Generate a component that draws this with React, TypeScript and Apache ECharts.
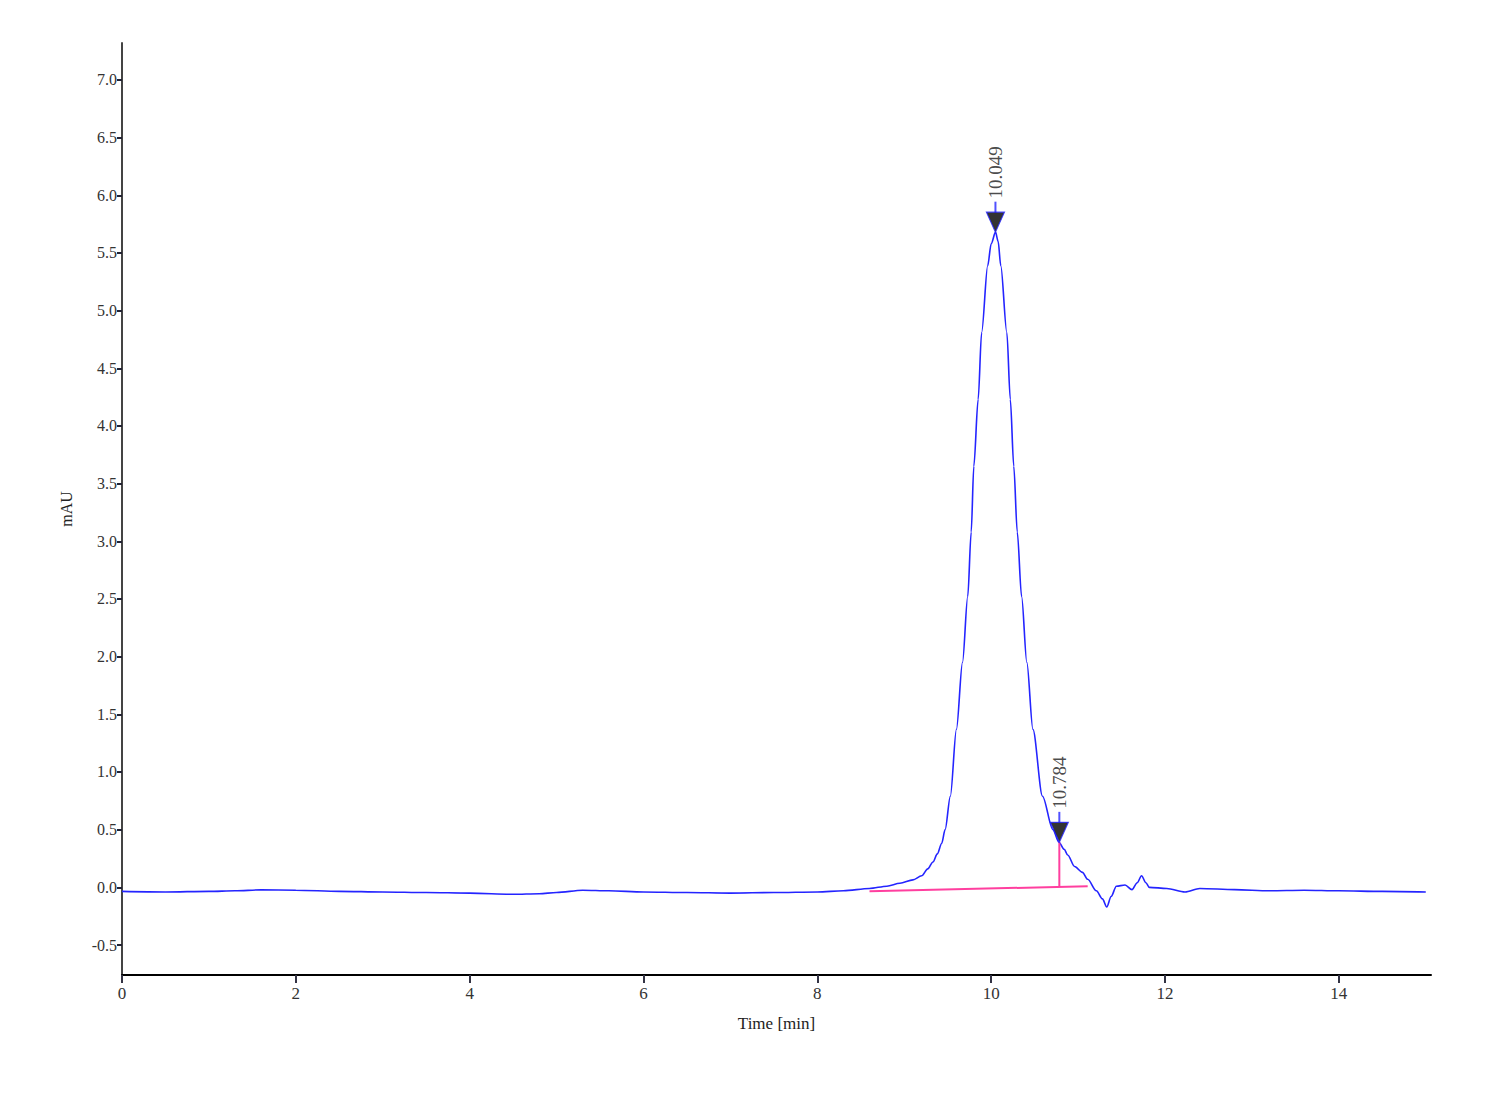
import React, { useEffect, useRef } from "react";
import * as echarts from "echarts";

const times = [
  0, 0.5, 1.0, 1.3, 1.6, 2.0, 2.5, 3.0, 3.5, 4.0, 4.5, 4.8, 5.0, 5.3, 5.6, 6.0, 6.5, 7.0, 7.5, 8.0,
  8.3, 8.6, 8.8, 8.95, 9.1, 9.2, 9.27, 9.33, 9.38, 9.43, 9.47, 9.53, 9.6, 9.67, 9.73, 9.77, 9.8,
  9.85, 9.89, 9.96, 10.0, 10.05, 10.08, 10.11, 10.18, 10.22, 10.26, 10.3, 10.35, 10.41, 10.48,
  10.59, 10.71, 10.78, 10.84, 10.88, 10.96, 11.05, 11.11, 11.21, 11.28, 11.33, 11.38, 11.44,
  11.54, 11.62, 11.68, 11.73, 11.78, 11.82, 12.02, 12.23, 12.4, 12.8, 13.2, 13.6, 14.0, 14.5, 15.0,
];
const signal = [
  -0.035, -0.04, -0.035, -0.03, -0.022, -0.025, -0.035, -0.04, -0.045, -0.05, -0.06, -0.055, -0.045,
  -0.025, -0.03, -0.04, -0.045, -0.05, -0.045, -0.04, -0.03, -0.01, 0.01, 0.035, 0.065, 0.1, 0.16,
  0.22, 0.29, 0.38, 0.5, 0.79, 1.37, 1.95, 2.52, 3.08, 3.65, 4.23, 4.81, 5.39, 5.58, 5.68, 5.6,
  5.39, 4.81, 4.23, 3.65, 3.08, 2.52, 1.95, 1.37, 0.79, 0.5, 0.39, 0.33, 0.28, 0.18, 0.13, 0.07,
  -0.03, -0.1, -0.17, -0.08, 0.01, 0.02, -0.02, 0.04, 0.1, 0.04, 0.0, -0.01, -0.04, -0.01, -0.02,
  -0.03, -0.025, -0.03, -0.035, -0.04,
];

const peakTimes = [10.049, 10.784];
const peakHeights = [5.68, 0.39];
const peakLabels = ["10.049", "10.784"];

const baselineTimes = [8.6, 11.11];
const baselineValues = [-0.035, 0.01];
const dropTimes = [10.784, 10.784];
const dropValues = [0.004, 0.39];

const xTicks = [0, 2, 4, 6, 8, 10, 12, 14];
const yTicks = [-0.5, 0, 0.5, 1, 1.5, 2, 2.5, 3, 3.5, 4, 4.5, 5, 5.5, 6, 6.5, 7];

export default function App() {
  const ref = useRef<HTMLDivElement>(null);
  useEffect(() => {
    if (!ref.current) return;
    const chart = echarts.init(ref.current, undefined, { renderer: "svg" });
    const serif = "'Liberation Serif', 'Times New Roman', serif";
    const blue = "#2424ff";
    const pink = "#ff3f9f";
    chart.setOption({
      animation: false,
      backgroundColor: "#ffffff",
      grid: { left: 114, right: 61, top: 35, bottom: 117 },
      xAxis: {
        type: "value",
        min: 0,
        max: 15.06,
        name: "Time [min]",
        nameLocation: "middle",
        nameGap: 40,
        nameTextStyle: { fontFamily: serif, fontSize: 17, color: "#222" },
        axisLine: { show: true, onZero: false, lineStyle: { color: "#000", width: 2 } },
        axisTick: { show: true, length: 8, customValues: xTicks, lineStyle: { color: "#334", width: 2 } },
        axisLabel: { customValues: xTicks, fontFamily: serif, fontSize: 17, color: "#333", margin: 10 },
        splitLine: { show: false },
      },
      yAxis: {
        type: "value",
        min: -0.76,
        max: 7.32,
        name: "mAU",
        nameLocation: "middle",
        nameGap: 48,
        nameTextStyle: { fontFamily: serif, fontSize: 16, color: "#222" },
        axisLine: { show: true, onZero: false, lineStyle: { color: "#444", width: 2 } },
        axisTick: { show: true, length: 5, customValues: yTicks, lineStyle: { color: "#223", width: 2 } },
        axisLabel: {
          customValues: yTicks,
          formatter: (v: number) => v.toFixed(1),
          fontFamily: serif,
          fontSize: 16,
          color: "#333",
          margin: 5,
        },
        splitLine: { show: false },
      },
      series: [
        {
          type: "line",
          data: times.map((t, i) => [t, signal[i]]),
          showSymbol: false,
          smooth: 0.3,
          smoothMonotone: "x",
          lineStyle: { color: blue, width: 1.6 },
          z: 2,
        },
        {
          type: "line",
          data: baselineTimes.map((t, i) => [t, baselineValues[i]]),
          showSymbol: false,
          lineStyle: { color: pink, width: 2 },
          z: 3,
        },
        {
          type: "line",
          data: dropTimes.map((t, i) => [t, dropValues[i]]),
          showSymbol: false,
          lineStyle: { color: pink, width: 2 },
          z: 3,
        },
        {
          type: "scatter",
          data: peakTimes.map((t, i) => [t, peakHeights[i]]),
          symbol: "rect",
          symbolSize: [2, 11],
          symbolOffset: [0, -25],
          itemStyle: { color: blue },
          z: 4,
        },
        {
          type: "scatter",
          data: peakTimes.map((t, i) => [t, peakHeights[i]]),
          symbol: "triangle",
          symbolRotate: 180,
          symbolSize: [18, 20],
          symbolOffset: [0, -10],
          itemStyle: { color: "#000", borderColor: blue, borderWidth: 1.2 },
          label: {
            show: true,
            position: "top",
            distance: 13,
            rotate: 90,
            align: "left",
            verticalAlign: "middle",
            formatter: (p: any) => peakLabels[p.dataIndex],
            fontFamily: serif,
            fontSize: 19,
            color: "#1a1a1a",
          },
          z: 5,
        },
      ],
    });
    return () => chart.dispose();
  }, []);
  return <div ref={ref} style={{ width: 1484, height: 1084 }} />;
}
